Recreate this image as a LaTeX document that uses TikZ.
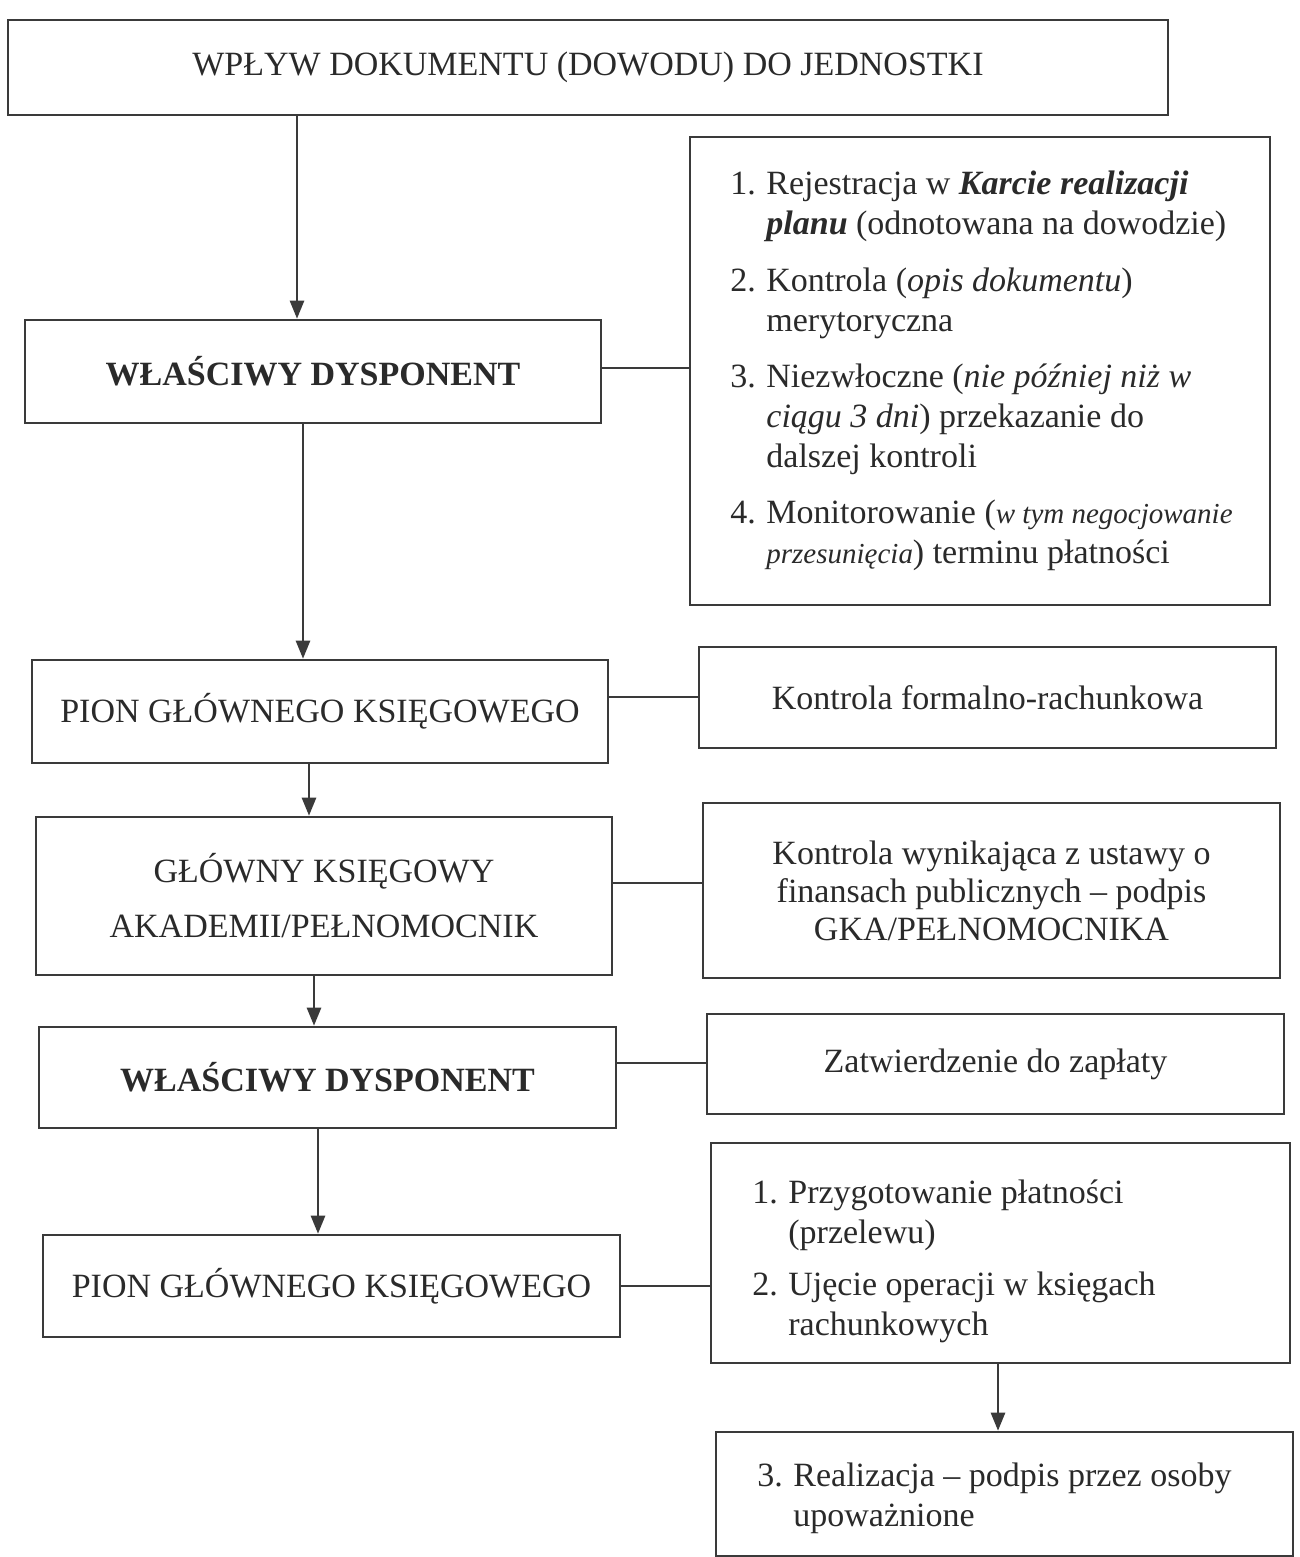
\documentclass[tikz,border=0pt]{standalone}
\usepackage{fontspec}
\setmainfont{Liberation Serif}
\usetikzlibrary{arrows.meta}
\definecolor{ink}{HTML}{3A3A3A}
\definecolor{txt}{HTML}{2A2A2A}
\newcommand{\nr}[1]{\makebox[18pt][l]{#1}}
\begin{document}
\begin{tikzpicture}[x=0.5pt,y=-0.5pt,
  box/.style={draw=ink, line width=1.3pt, rectangle, inner sep=0pt, text=txt, align=center},
  arr/.style={draw=ink, line width=1.3pt, -{Triangle[length=9pt,width=7pt]}},
  link/.style={draw=ink, line width=1.1pt},
  lst/.style={inner sep=0pt, text=txt, anchor=west},
  font=\fontsize{17}{20}\selectfont]
\useasboundingbox (0,0) rectangle (1300,1557);
\fill[white] (0,0) rectangle (1300,1557);

% left column
\node[box, minimum width=580pt, minimum height=47.5pt] (A) at (588,67.5)
  {WPŁYW DOKUMENTU (DOWODU) DO JEDNOSTKI};
\node[box, minimum width=288pt, minimum height=51.5pt] (B) at (313,371.5)
  {\bfseries WŁAŚCIWY DYSPONENT};
\node[box, minimum width=288pt, minimum height=51.5pt] (D) at (320,711.5)
  {PION GŁÓWNEGO KSIĘGOWEGO};
\node[box, minimum width=288pt, minimum height=79pt, font=\fontsize{17}{27.5}\selectfont] (F) at (324,896)
  {GŁÓWNY KSIĘGOWY\\AKADEMII/PEŁNOMOCNIK};
\node[box, minimum width=288.5pt, minimum height=50.5pt] (H) at (327.5,1077.5)
  {\bfseries WŁAŚCIWY DYSPONENT};
\node[box, minimum width=288.5pt, minimum height=51pt] (J) at (331.5,1286)
  {PION GŁÓWNEGO KSIĘGOWEGO};

% right column
\node[box, minimum width=290pt, minimum height=234pt] (C) at (980,371) {};
\node[lst] (Ct) at (730,371) {%
\begin{tabular}{@{}l@{}l@{}}
\nr{1.} & Rejestracja w \textbf{\textit{Karcie realizacji}}\\
 & \textbf{\textit{planu}} (odnotowana na dowodzie)\\[8.5pt]
\nr{2.} & Kontrola (\textit{opis dokumentu})\\
 & merytoryczna\\[8pt]
\nr{3.} & Niezwłoczne (\textit{nie później niż w}\\
 & \textit{ciągu 3 dni}) przekazanie do\\
 & dalszej kontroli\\[8pt]
\nr{4.} & Monitorowanie ({\fontsize{14.5}{20}\selectfont\textit{w tym negocjowanie}}\\
 & {\fontsize{14.5}{20}\selectfont\textit{przesunięcia}}) terminu płatności
\end{tabular}};

\node[box, minimum width=288.5pt, minimum height=50.5pt] (E) at (987.5,697.5)
  {Kontrola formalno-rachunkowa};
\node[box, minimum width=288.5pt, minimum height=87.5pt, font=\fontsize{17}{19}\selectfont] (G) at (991.5,890.5)
  {Kontrola wynikająca z ustawy o\\finansach publicznych – podpis\\GKA/PEŁNOMOCNIKA};
\node[box, minimum width=288.5pt, minimum height=50pt] (I) at (995.5,1064)
  {Zatwierdzenie do zapłaty};

\node[box, minimum width=289.5pt, minimum height=110pt] (K) at (1000.5,1253) {};
\node[lst] (Kt) at (752,1261) {%
\begin{tabular}{@{}l@{}l@{}}
\nr{1.} & Przygotowanie płatności\\
 & (przelewu)\\[6pt]
\nr{2.} & Ujęcie operacji w księgach\\
 & rachunkowych
\end{tabular}};

\node[box, minimum width=288.5pt, minimum height=62pt] (L) at (1004.5,1494) {};
\node[lst] (Lt) at (757,1498) {%
\begin{tabular}{@{}l@{}l@{}}
\nr{3.} & Realizacja – podpis przez osoby\\
 & upoważnione
\end{tabular}};

% arrows
\draw[arr] (A.south -| 297,0) -- (B.north -| 297,0);
\draw[arr] (B.south -| 303,0) -- (D.north -| 303,0);
\draw[arr] (D.south -| 309,0) -- (F.north -| 309,0);
\draw[arr] (F.south -| 314,0) -- (H.north -| 314,0);
\draw[arr] (H.south -| 318,0) -- (J.north -| 318,0);
\draw[arr] (K.south -| 998,0) -- (L.north -| 998,0);

% links
\draw[link] (B.east |- 0,368) -- (C.west |- 0,368);
\draw[link] (D.east |- 0,697) -- (E.west |- 0,697);
\draw[link] (F.east |- 0,883) -- (G.west |- 0,883);
\draw[link] (H.east |- 0,1063) -- (I.west |- 0,1063);
\draw[link] (J.east |- 0,1286) -- (K.west |- 0,1286);
\end{tikzpicture}
\end{document}
